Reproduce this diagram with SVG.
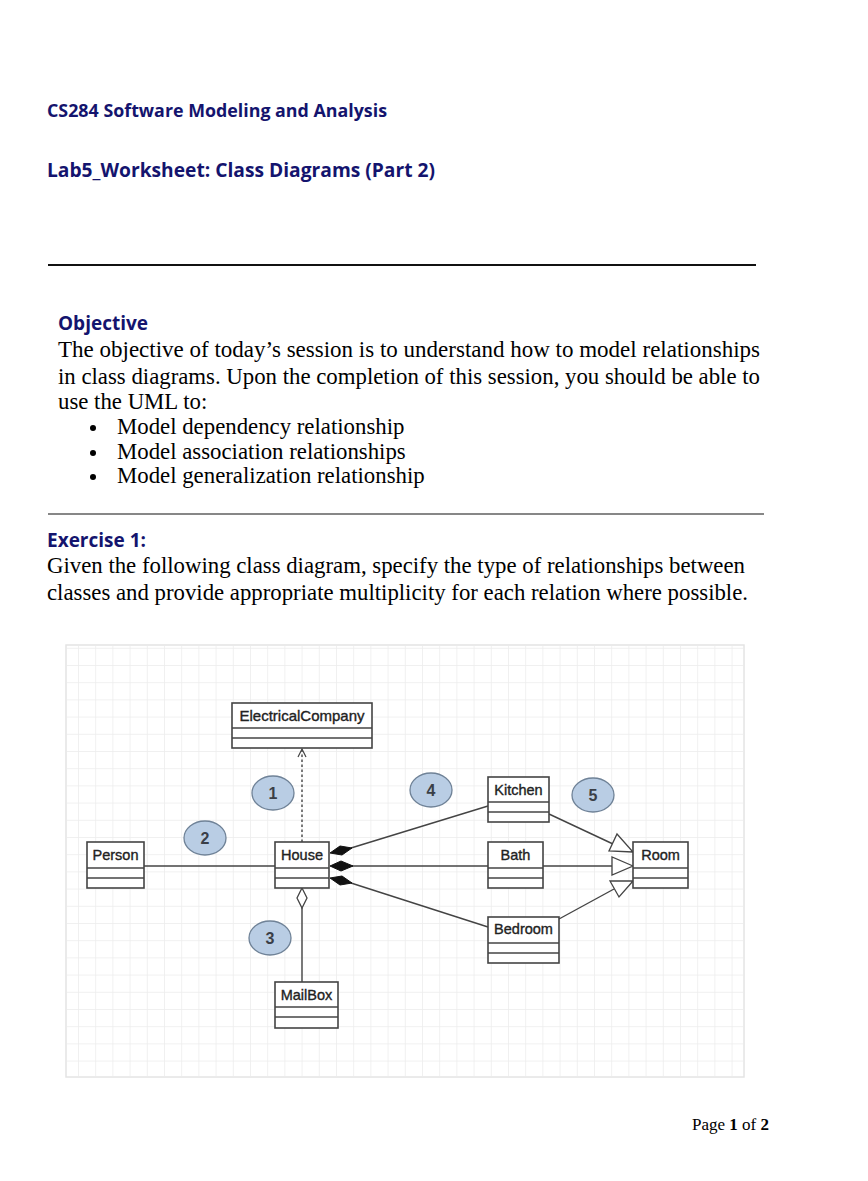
<svg xmlns="http://www.w3.org/2000/svg" width="868" height="1181" viewBox="0 0 868 1181">
<style>
.hd{font-family:"Open Sans","Liberation Sans",sans-serif;font-weight:bold;fill:#14146e}
.bd{font-family:"Liberation Serif",serif;font-size:22.8px;fill:#000}
.cls rect{fill:#fff;stroke:#444;stroke-width:1.6}
.cls line{stroke:#444;stroke-width:1.6}
.cn{font-family:"Liberation Sans",Arial,sans-serif;font-size:14.5px;fill:#222;stroke:#222;stroke-width:0.35}
.num ellipse{fill:#b9cde4;stroke:#6f8297;stroke-width:1.3}
.num text{font-family:"Liberation Sans",Arial,sans-serif;font-size:16px;font-weight:bold;fill:#3a3f47;text-anchor:middle}
.ln{stroke:#444;stroke-width:1.4;fill:none}
</style>
<defs>
<pattern id="grid" x="78" y="665" width="17.2" height="17.2" patternUnits="userSpaceOnUse">
<path d="M0 0V17.2M0 0H17.2" stroke="#ececec" stroke-width="1.5" fill="none"/>
</pattern>
<marker id="open" markerWidth="12" markerHeight="12" refX="9" refY="5" orient="auto" markerUnits="userSpaceOnUse">
<path d="M1 1L9 5L1 9" fill="none" stroke="#444" stroke-width="1.2"/>
</marker>
</defs>
<rect width="868" height="1181" fill="#fff"/>
<g id="header">
<text class="hd" x="47" y="117" font-size="17.5" textLength="340" lengthAdjust="spacingAndGlyphs">CS284 Software Modeling and Analysis</text>
<text class="hd" x="47" y="177" font-size="19" textLength="388" lengthAdjust="spacingAndGlyphs">Lab5_Worksheet: Class Diagrams (Part 2)</text>
<line x1="48" y1="265" x2="756" y2="265" stroke="#111" stroke-width="2.2"/>
</g>
<g id="objective">
<text class="hd" x="58" y="330" font-size="19">Objective</text>
<text class="bd" x="58" y="357" textLength="702" lengthAdjust="spacingAndGlyphs">The objective of today’s session is to understand how to model relationships</text>
<text class="bd" x="58" y="384" textLength="702" lengthAdjust="spacingAndGlyphs">in class diagrams. Upon the completion of this session, you should be able to</text>
<text class="bd" x="58" y="409">use the UML to:</text>
<circle cx="93" cy="428" r="3" fill="#000"/>
<circle cx="93" cy="453" r="3" fill="#000"/>
<circle cx="93" cy="477" r="3" fill="#000"/>
<text class="bd" x="117" y="434">Model dependency relationship</text>
<text class="bd" x="117" y="459">Model association relationships</text>
<text class="bd" x="117" y="483">Model generalization relationship</text>
<line x1="48" y1="514" x2="764" y2="514" stroke="#111" stroke-width="1.2"/>
</g>
<g id="exercise">
<text class="hd" x="47" y="547" font-size="19">Exercise 1:</text>
<text class="bd" x="47" y="573" textLength="698" lengthAdjust="spacingAndGlyphs">Given the following class diagram, specify the type of relationships between</text>
<text class="bd" x="47" y="600" textLength="701" lengthAdjust="spacingAndGlyphs">classes and provide appropriate multiplicity for each relation where possible.</text>
</g>
<g id="canvas">
<rect x="66" y="645" width="678" height="432" fill="#fff" stroke="#e4e4e4" stroke-width="1.5"/>
<rect x="67" y="646" width="676" height="430" fill="url(#grid)"/>
</g>
<g id="connectors">
<line class="ln" x1="302" y1="842" x2="302" y2="749" stroke-dasharray="2.5,2.5" marker-end="url(#open)"/>
<line class="ln" x1="144" y1="866" x2="275" y2="866"/>
<line class="ln" x1="302" y1="908" x2="302" y2="982"/>
<path d="M302 888L307 898L302 908L297 898Z" fill="#fff" stroke="#444" stroke-width="1.3"/>
<line class="ln" x1="351" y1="848" x2="488" y2="806"/>
<line class="ln" x1="352" y1="866" x2="488" y2="866"/>
<line class="ln" x1="351" y1="883" x2="488" y2="927"/>
<path d="M330 853L340 846L352 848L342 855Z" fill="#111" stroke="#111" stroke-width="1"/>
<path d="M330 866L341 861L353 866L341 871Z" fill="#111" stroke="#111" stroke-width="1"/>
<path d="M330 878L342 876L352 883L340 885Z" fill="#111" stroke="#111" stroke-width="1"/>
<line class="ln" x1="549" y1="814" x2="613" y2="844"/>
<line class="ln" x1="543" y1="866" x2="612" y2="866" stroke-width="2"/>
<line class="ln" x1="559" y1="919" x2="614" y2="889"/>
<path d="M633 852L609 851L617 834Z" fill="#fff" stroke="#444" stroke-width="1.3"/>
<path d="M633 866L612 857L612 875Z" fill="#fff" stroke="#444" stroke-width="1.3"/>
<path d="M633 881L619 897L610 881Z" fill="#fff" stroke="#444" stroke-width="1.3"/>
</g>
<g id="ElectricalCompany" class="cls">
<rect x="232" y="703" width="140" height="45"/>
<line x1="232" y1="728" x2="372" y2="728"/><line x1="232" y1="738" x2="372" y2="738"/>
<text class="cn" x="302" y="721" text-anchor="middle" textLength="125" lengthAdjust="spacingAndGlyphs">ElectricalCompany</text>
</g>
<g id="Person" class="cls">
<rect x="87" y="842" width="57" height="46"/>
<line x1="87" y1="868" x2="144" y2="868"/><line x1="87" y1="878" x2="144" y2="878"/>
<text class="cn" x="115.5" y="860" text-anchor="middle">Person</text>
</g>
<g id="House" class="cls">
<rect x="275" y="842" width="54" height="46"/>
<line x1="275" y1="868" x2="329" y2="868"/><line x1="275" y1="878" x2="329" y2="878"/>
<text class="cn" x="302" y="860" text-anchor="middle">House</text>
</g>
<g id="MailBox" class="cls">
<rect x="275" y="982" width="63" height="46"/>
<line x1="275" y1="1007" x2="338" y2="1007"/><line x1="275" y1="1017" x2="338" y2="1017"/>
<text class="cn" x="306.5" y="1000" text-anchor="middle">MailBox</text>
</g>
<g id="Kitchen" class="cls">
<rect x="488" y="777" width="61" height="45"/>
<line x1="488" y1="802" x2="549" y2="802"/><line x1="488" y1="812" x2="549" y2="812"/>
<text class="cn" x="518.5" y="795" text-anchor="middle">Kitchen</text>
</g>
<g id="Bath" class="cls">
<rect x="488" y="842" width="55" height="46"/>
<line x1="488" y1="868" x2="543" y2="868"/><line x1="488" y1="878" x2="543" y2="878"/>
<text class="cn" x="515.5" y="860" text-anchor="middle">Bath</text>
</g>
<g id="Bedroom" class="cls">
<rect x="488" y="917" width="71" height="46"/>
<line x1="488" y1="943" x2="559" y2="943"/><line x1="488" y1="953" x2="559" y2="953"/>
<text class="cn" x="523.5" y="934" text-anchor="middle">Bedroom</text>
</g>
<g id="Room" class="cls">
<rect x="633" y="842" width="55" height="46"/>
<line x1="633" y1="868" x2="688" y2="868"/><line x1="633" y1="878" x2="688" y2="878"/>
<text class="cn" x="660.5" y="860" text-anchor="middle">Room</text>
</g>
<g id="label1" class="num"><ellipse cx="273" cy="793" rx="21" ry="17"/><text x="273" y="799">1</text></g>
<g id="label2" class="num"><ellipse cx="205" cy="838" rx="21" ry="17"/><text x="205" y="844">2</text></g>
<g id="label3" class="num"><ellipse cx="270" cy="938" rx="21" ry="17"/><text x="270" y="944">3</text></g>
<g id="label4" class="num"><ellipse cx="431" cy="790" rx="21" ry="17"/><text x="431" y="796">4</text></g>
<g id="label5" class="num"><ellipse cx="593" cy="795" rx="21" ry="17"/><text x="593" y="801">5</text></g>
<g id="footer">
<text x="692" y="1130" font-family="Liberation Serif,serif" font-size="17" fill="#000">Page <tspan font-weight="bold">1</tspan> of <tspan font-weight="bold">2</tspan></text>
</g>
</svg>
